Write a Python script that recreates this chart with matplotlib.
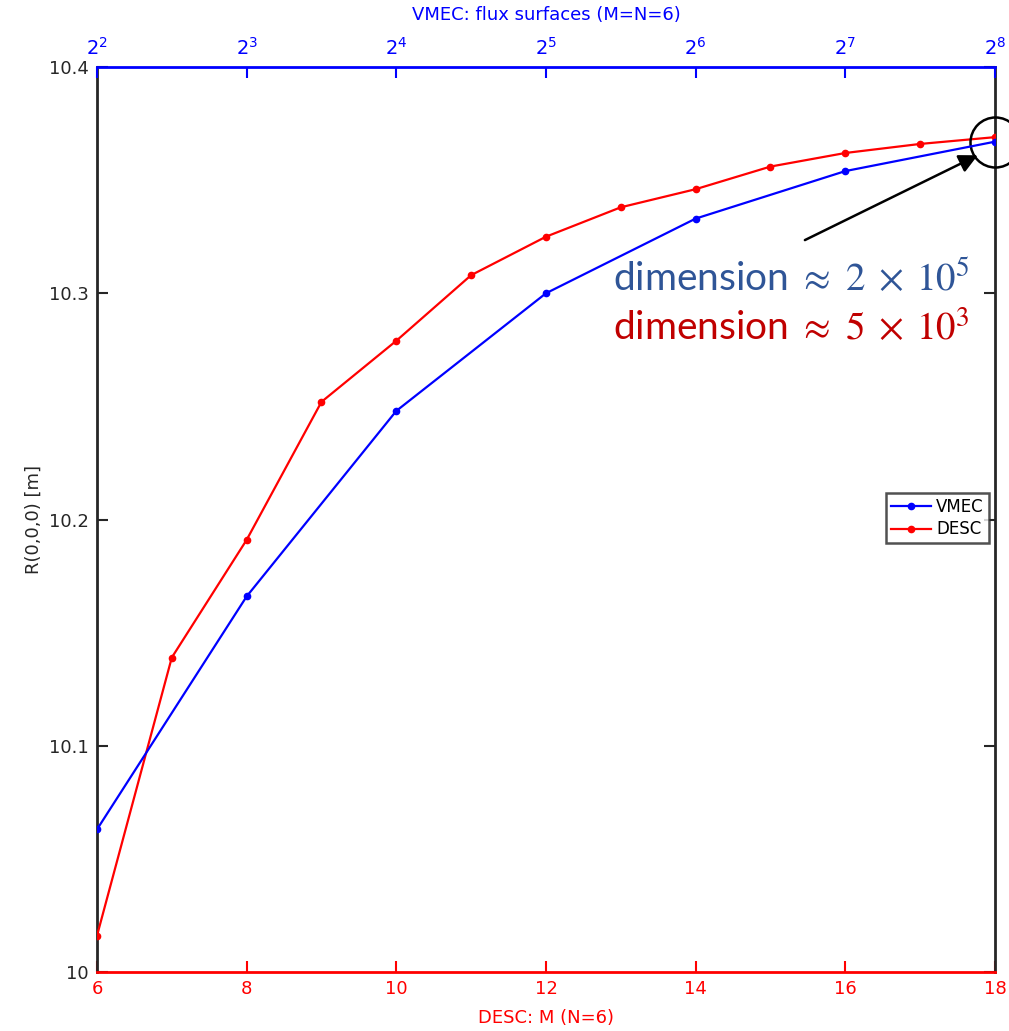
import matplotlib
matplotlib.use("Agg")
import matplotlib.pyplot as plt

# DESC resolution scan, M = 6..18 with N = 6
desc_m = [6, 7, 8, 9, 10, 11, 12, 13, 14, 15, 16, 17, 18]
desc_r = [10.016, 10.139, 10.191, 10.252, 10.279, 10.308, 10.325,
          10.338, 10.346, 10.356, 10.362, 10.366, 10.369]

# VMEC scan over the number of flux surfaces (M = N = 6)
vmec_surf = [2**2, 2**3, 2**4, 2**5, 2**6, 2**7, 2**8]
vmec_r = [10.063, 10.166, 10.248, 10.300, 10.333, 10.354, 10.367]
vmec_exp = [2, 3, 4, 5, 6, 7, 8]

y_ticks = [10, 10.1, 10.2, 10.3, 10.4]
y_labels = ["10", "10.1", "10.2", "10.3", "10.4"]
m_ticks = [6, 8, 10, 12, 14, 16, 18]

blue = "#0000ff"
red = "#ff0000"
dark = "#262626"

plt.rcParams["font.family"] = ["DejaVu Sans"]
plt.rcParams["mathtext.fontset"] = "dejavusans"

fig = plt.figure(figsize=(10.09, 10.31), dpi=100)
ax = fig.add_axes([0.0961, 0.0572, 0.8900, 0.8778])

ln_desc, = ax.plot(desc_m, desc_r, color=red, lw=1.6, marker="o", ms=4.5,
                   label="DESC", zorder=3)
ax.set_xlim(6, 18)
ax.set_ylim(10, 10.4)
ax.set_xticks(m_ticks)
ax.set_yticks(y_ticks)
ax.set_yticklabels(y_labels)
ax.tick_params(axis="x", direction="in", length=8, width=1.5, colors=red,
               labelsize=13, pad=6)
ax.tick_params(axis="y", direction="in", length=8, width=1.5, colors=dark,
               labelsize=13, right=True, pad=6)
ax.set_xlabel("DESC: M (N=6)", color=red, fontsize=13, labelpad=8)
ax.set_ylabel("R(0,0,0) [m]", color=dark, fontsize=13, labelpad=4)
ax.spines["bottom"].set_color(red)
ax.spines["left"].set_color(dark)
ax.spines["right"].set_color(dark)
ax.spines["top"].set_visible(False)
for s in ax.spines.values():
    s.set_linewidth(2)

# top axis: VMEC flux surfaces on a log2 scale
ax2 = ax.twiny()
ax2.set_xscale("log", base=2)
ln_vmec, = ax2.plot(vmec_surf, vmec_r, color=blue, lw=1.6, marker="o", ms=4.5,
                    label="VMEC", zorder=3)
ax2.set_xlim(2**2, 2**8)
ax2.set_xticks(vmec_surf)
ax2.set_xticklabels(["$2^{%d}$" % k for k in vmec_exp])
ax2.minorticks_off()
ax2.tick_params(axis="x", direction="in", length=8, width=1.5, colors=blue,
                labelsize=14, pad=6)
ax2.set_xlabel("VMEC: flux surfaces (M=N=6)", color=blue, fontsize=13, labelpad=12)
ax2.spines["top"].set_color(blue)
ax2.spines["top"].set_linewidth(2)
for side in ["bottom", "left", "right"]:
    ax2.spines[side].set_visible(False)

# circle the converged point and point an arrow at it
ax.plot([18], [vmec_r[-1]], marker="o", ms=36, mfc="none", mec="black",
        mew=1.8, clip_on=False, zorder=4)
ax.annotate("", xy=(17.77, 10.361), xytext=(15.46, 10.3235),
            arrowprops=dict(arrowstyle="-|>", color="black", lw=1.8,
                            mutation_scale=28, shrinkA=0, shrinkB=0))

ax.text(12.9, 10.3065, r"dimension $\approx\ 2\;\times\;10^5$", color="#2f5597",
        fontsize=28, family=["Lato", "DejaVu Sans"], math_fontfamily="stix",
        ha="left", va="center")
ax.text(12.9, 10.2845, r"dimension $\approx\ 5\;\times\;10^3$", color="#c00000",
        fontsize=28, family=["Lato", "DejaVu Sans"], math_fontfamily="stix",
        ha="left", va="center")

leg = ax2.legend(handles=[ln_vmec, ln_desc], loc="upper right",
                 bbox_to_anchor=(0.993, 0.529), fontsize=12, frameon=True,
                 fancybox=False, handlelength=2.4, handletextpad=0.3,
                 borderpad=0.3, labelspacing=0.25, borderaxespad=0)
leg.get_frame().set_edgecolor("#262626")
leg.get_frame().set_linewidth(1.8)

fig.savefig("out.png", dpi=100)
